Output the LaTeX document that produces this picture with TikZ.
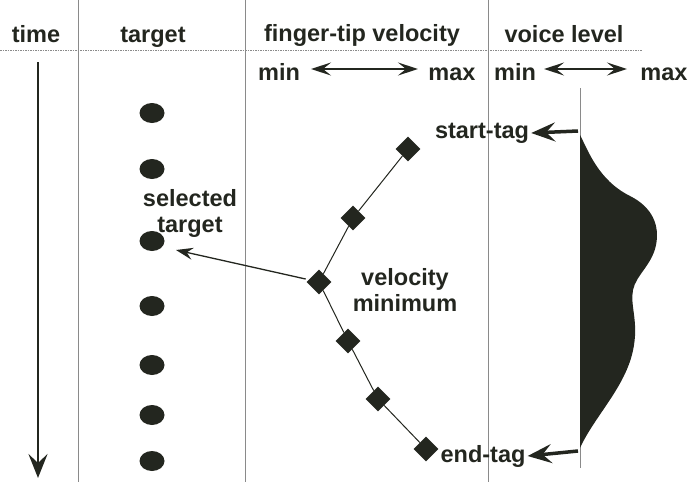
\documentclass[tikz,border=0pt]{standalone}
\usepackage{fontspec}
\setmainfont{Liberation Sans}
\usetikzlibrary{shapes.geometric,arrows.meta}
\definecolor{ink}{HTML}{23261F}
\definecolor{rule}{HTML}{8A8A8A}
\tikzset{
  lbl/.style={font=\bfseries\fontsize{23.5}{26}\selectfont, text=ink, inner sep=0pt, align=center},
  sep/.style={draw=rule, line width=0.7pt},
  dot/.style={ellipse, fill=ink, minimum width=25pt, minimum height=20pt, inner sep=0pt},
  dia/.style={diamond, fill=ink, minimum size=25pt, inner sep=0pt, aspect=1},
  chain/.style={draw=ink, line width=1pt},
  bigarrow/.style={draw=ink, line width=3pt, -{Stealth[length=24pt,width=19pt,inset=9pt]}},
  dblarrow/.style={draw=ink, line width=1.8pt, {Stealth[length=20pt,width=13pt,inset=8pt]}-{Stealth[length=20pt,width=13pt,inset=8pt]}},
  thinarrow/.style={draw=ink, line width=1.3pt, -{Stealth[length=17pt,width=12pt,inset=6pt]}}
}
\begin{document}
\begin{tikzpicture}[x=1pt,y=-1pt]
\useasboundingbox (0,0) rectangle (690,482);
% column rules
\coordinate (r1t) at (78,0);   \coordinate (r1b) at (78,482);
\coordinate (r2t) at (245,0);  \coordinate (r2b) at (245,482);
\coordinate (r3t) at (488,0);  \coordinate (r3b) at (488,482);
\coordinate (r4t) at (580,88); \coordinate (r4b) at (580,468);
\draw[sep] (r1t) -- (r1b);
\draw[sep] (r2t) -- (r2b);
\draw[sep] (r3t) -- (r3b);
\draw[sep] (r4t) -- (r4b);
\coordinate (hl) at (0,50); \coordinate (hr) at (642,50);
\draw[draw=rule, line width=0.7pt, dash pattern=on 1.5pt off 1pt] (hl) -- (hr);
% headers
\node[lbl, anchor=base] (htime) at (36,42) {time};
\node[lbl, anchor=base] (htarget) at (153,42) {target};
\node[lbl, anchor=base] (hvel) at (362,41) {finger-tip velocity};
\node[lbl, anchor=base] (hvoice) at (564,42) {voice level};
\node[lbl, anchor=base] (min1) at (279,80) {min};
\node[lbl, anchor=base] (max1) at (452,80) {max};
\node[lbl, anchor=base] (min2) at (515,80) {min};
\node[lbl, anchor=base] (max2) at (664,80) {max};
\coordinate (a1l) at (311,69); \coordinate (a1r) at (418,69);
\coordinate (a2l) at (544,69); \coordinate (a2r) at (627,69);
\draw[dblarrow] (a1l) -- (a1r);
\draw[dblarrow] (a2l) -- (a2r);
% time arrow
\coordinate (tt) at (38,62); \coordinate (tb) at (38,478);
\draw[bigarrow, line width=2.6pt] (tt) -- (tb);
% targets
\node[dot] (t1) at (152,113) {};
\node[dot] (t2) at (152,169) {};
\node[dot] (t3) at (152,241) {};
\node[dot] (t4) at (152,306) {};
\node[dot] (t5) at (152,365) {};
\node[dot] (t6) at (152,415) {};
\node[dot] (t7) at (152,461) {};
\node[lbl] (sel) at (190,213) {selected\\target};
% velocity diamonds
\node[dia] (d1) at (408,149) {};
\node[dia] (d2) at (353,218) {};
\node[dia] (d3) at (319,282) {};
\node[dia] (d4) at (348,341) {};
\node[dia] (d5) at (378,399) {};
\node[dia] (d6) at (426,449) {};
\draw[chain] (d1) -- (d2) -- (d3) -- (d4) -- (d5) -- (d6);
\coordinate (selpt) at (176,250);
\draw[thinarrow, shorten <=3pt] (d3) -- (selpt);
\node[lbl] (vmin) at (405,290) {velocity\\minimum};
% tags
\node[lbl] (stag) at (482,133) {start-tag};
\node[lbl] (etag) at (483,456) {end-tag};
\coordinate (sa) at (578,131);
\coordinate (ea) at (578,451);
\draw[bigarrow, line width=3.5pt] (sa) -- ([xshift=2pt]stag.east);
\draw[bigarrow, line width=3.5pt] (ea) -- ([xshift=2pt]etag.east);
% voice level
\fill[ink] (580,135) .. controls (588,150) and (598,180) .. (630,196)
  .. controls (652,207) and (660,225) .. (656,245)
  .. controls (652,265) and (636,275) .. (633,290)
  .. controls (630,305) and (638,320) .. (634,345)
  .. controls (628,385) and (595,415) .. (580,448) -- cycle;
\end{tikzpicture}
\end{document}
